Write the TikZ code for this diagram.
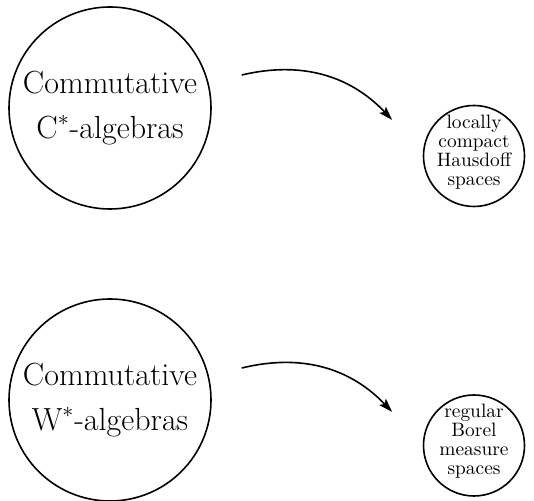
\documentclass[tikz,border=0pt]{standalone}
\usetikzlibrary{arrows.meta}
\begin{document}
\begin{tikzpicture}[x=0.5pt, y=0.5pt,
  big/.style={circle, draw, line width=0.8pt, minimum size=101pt, inner sep=0pt, align=center, font=\fontsize{16}{22.3}\selectfont, execute at begin node={\rule{0pt}{14pt}}},
  small/.style={circle, draw, line width=0.8pt, minimum size=50.5pt, inner sep=-6pt, align=center, font=\fontsize{9.7}{9.5}\selectfont, execute at end node={\rule[-6pt]{0pt}{6pt}}},
  arr/.style={-{Stealth[length=7pt,width=4.5pt,inset=1.5pt]}, line width=0.8pt, bend left=30}]
\useasboundingbox (0,0) rectangle (534,501);
\node[big] (alg0) at (110,393){Commutative\\C$^*$-algebras};
\node[small] (sp0) at (474,345){locally\\compact\\Hausdoff\\spaces};
\node[big] (alg1) at (110,101){Commutative\\W$^*$-algebras};
\node[small] (sp1) at (474,55.5){regular\\Borel\\measure\\spaces};
\draw[arr] ([shift={(30,33)}]alg0.east) to ([shift={(-30.5,36)}]sp0.west);
\draw[arr] ([shift={(30,32)}]alg1.east) to ([shift={(-30.5,33.5)}]sp1.west);

\end{tikzpicture}
\end{document}
